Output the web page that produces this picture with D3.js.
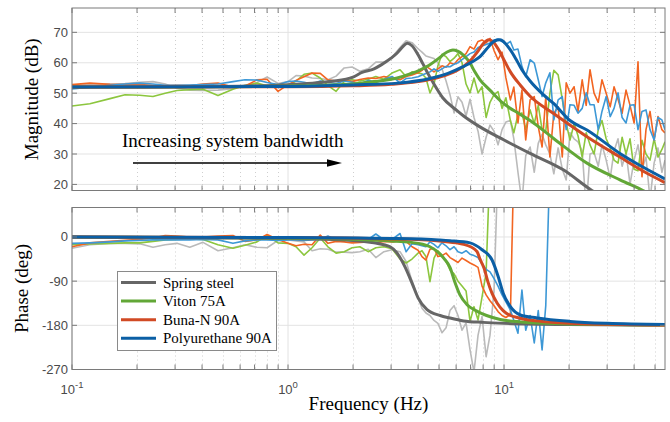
<!DOCTYPE html>
<html>
<head>
<meta charset="utf-8">
<script src="https://cdn.jsdelivr.net/npm/d3@7"></script>
<style>
  html, body { margin: 0; padding: 0; background: #fff; }
  svg { display: block; }
  .serif { font-family: "Liberation Serif", "Times New Roman", Times, serif; }
  .sans { font-family: "Liberation Sans", Arial, Helvetica, sans-serif; }
</style>
</head>
<body>
<svg id="bode" width="670" height="422"></svg>
<script>
(function() {

  // measured response, sample frequencies (Hz)
  const rawFreq = [
    0.1, 0.121, 0.15, 0.176, 0.206, 0.237, 0.27, 0.306, 0.351, 0.404, 0.474, 0.556, 0.632, 0.718, 0.8, 0.899, 1.0,
    1.089, 1.186, 1.292, 1.41, 1.53, 1.67, 1.82, 1.98, 2.15, 2.35, 2.55, 2.78, 3.03, 3.3, 3.52, 3.75, 4.0,
    4.17, 4.35, 4.54, 4.74, 4.94, 5.16, 5.39, 5.62, 5.87, 6.12, 6.39, 6.67, 6.96, 7.26, 7.58, 7.91, 8.26, 8.61, 8.99, 9.38, 9.79,
    10.2, 10.7, 11.1, 11.6, 12.1, 12.6, 13.2, 13.8, 14.4, 15.0, 15.6, 16.3, 17.0, 17.8, 18.6, 19.4, 20.2, 21.1, 22.0, 23.0,
    24.0, 25.0, 26.1, 27.3, 28.4, 29.7, 31.0, 32.3, 33.7, 35.2, 36.7, 38.3, 40.0, 41.7, 43.5, 45.4, 47.4, 49.5, 51.6, 53.8, 55.6
  ];

  // measured magnitude (dB)
  const steelRawMag = [
    52.5, 52.8, 53.0, 53.2, 53.6, 53.8, 53.0, 51.6, 51.0, 50.9, 51.0, 51.5, 52.6, 53.5, 55.3, 53.2, 53.8,
    55.8, 55.6, 55.0, 54.8, 54.4, 55.6, 58.3, 58.6, 57.2, 58.0, 60.2, 60.2, 61.8, 65.0, 67.2, 66.6, 64.6,
    63.5, 62.2, 61.8, 61.4, 60.0, 58.0, 54.0, 49.5, 43.5, 48.8, 47.0, 42.5, 48.0, 42.0, 37.5, 30.0, 35.5, 39.5, 37.5, 33.0, 38.0,
    40.5, 41.0, 35.0, 24.0, 14.0, 29.5, 32.3, 24.0, 33.5, 36.5, 33.0, 30.0, 23.5, 32.0, 25.0, 21.5, 37.0, 35.0, 34.0, 31.0,
    12.0, 30.0, 30.5, 26.0, 33.0, 28.0, 22.0, 31.0, 35.0, 26.0, 30.5, 20.0, 28.0, 33.0, 25.0, 29.0, 15.0, 27.0, 32.0, 24.0, 28.0
  ];
  const vitonRawMag = [
    45.8, 46.5, 48.2, 49.5, 49.3, 48.9, 50.0, 50.9, 51.1, 51.3, 49.2, 51.3, 52.5, 53.3, 52.4, 52.2, 52.5,
    54.0, 56.2, 56.6, 55.0, 52.5, 50.6, 53.8, 54.4, 54.0, 54.6, 55.5, 54.6, 56.6, 57.7, 55.5, 57.0, 56.6,
    56.4, 55.0, 50.1, 53.0, 59.0, 62.8, 62.0, 60.4, 61.5, 63.0, 60.0, 53.0, 50.1, 55.0, 50.1, 52.1, 42.0, 47.0, 49.5, 50.5, 45.0,
    48.5, 41.0, 37.0, 43.0, 43.5, 38.0, 44.5, 40.0, 46.0, 38.0, 37.5, 50.0, 57.5, 56.0, 48.0, 40.0, 34.6, 40.0, 36.0, 29.0,
    37.0, 33.0, 30.0, 38.0, 41.0, 35.0, 32.0, 28.0, 27.0, 35.5, 30.0, 35.0, 25.0, 24.5, 34.5, 30.0, 28.0, 35.0, 29.0, 31.5, 34.0
  ];
  const bunaRawMag = [
    52.8, 53.3, 52.9, 52.8, 52.8, 52.6, 52.5, 52.6, 52.5, 53.0, 53.3, 52.0, 52.3, 54.4, 54.6, 50.6, 52.8,
    54.2, 55.4, 56.6, 56.5, 54.4, 54.0, 54.2, 53.8, 54.5, 55.0, 54.8, 55.5, 55.0, 54.4, 55.5, 56.0, 56.7,
    57.5, 58.8, 58.0, 57.0, 58.0, 59.0, 58.5, 60.0, 59.5, 61.0, 62.0, 63.0, 65.3, 64.5, 67.0, 67.5, 66.5, 68.0, 64.0, 61.0, 63.5,
    55.0, 47.8, 52.0, 40.2, 51.0, 34.6, 47.8, 48.9, 39.0, 32.3, 48.8, 29.0, 43.4, 45.5, 29.0, 53.4, 50.0, 52.1, 44.0, 54.4,
    46.0, 57.7, 50.0, 47.0, 54.4, 50.0, 45.5, 52.1, 48.0, 43.4, 51.0, 46.0, 40.2, 60.3, 22.5, 38.0, 44.0, 34.6, 42.3, 38.0, 36.9
  ];
  const polyRawMag = [
    51.4, 52.0, 52.6, 53.0, 53.3, 53.0, 52.6, 52.6, 52.7, 52.8, 53.0, 53.8, 54.4, 54.3, 53.5, 52.8, 53.8,
    54.0, 53.6, 53.0, 54.0, 53.5, 53.2, 54.0, 53.6, 53.0, 54.2, 53.6, 54.5, 55.5, 53.4, 54.8, 55.0, 55.4,
    56.0, 56.5, 57.0, 58.0, 57.2, 58.0, 58.8, 58.7, 59.5, 60.0, 61.0, 62.0, 63.0, 63.5, 65.0, 65.5, 66.0, 66.5, 67.5, 67.8, 67.0,
    66.0, 67.0, 64.2, 64.5, 58.8, 55.4, 61.0, 59.9, 54.4, 48.9, 53.4, 56.7, 41.2, 47.8, 48.9, 38.0, 46.2, 46.0, 43.4, 45.0,
    50.1, 46.2, 46.2, 38.0, 44.0, 48.9, 42.3, 45.0, 50.1, 42.0, 40.2, 46.0, 46.2, 38.0, 44.0, 44.5, 38.0, 34.6, 42.0, 41.2, 38.0
  ];

  // measured phase (deg); each series stops where it wraps off the top
  const steelRawPh = [
    -23, -16, -13, -13, -14, -21, -16, -13, -21, -11, -28, -22, -16, -21, -22, -7, -6,
    -8, -10, -28, -24, -25, -31, -31, -32, -30, -25, -42, -30, -26, -30, -50, -90, -125,
    -145, -155, -160, -170, -176, -195, -185, -150, -140, -160, -190, -175, -230, -275, -200, -162, -244, -200, -108, 150
  ];
  const vitonRawPh = [
    -16, -14, -13, -12, -12, -9, -6, -5, -4, -5, -16, -23, -17, -10, 3, -12, -13,
    -20, -37, -22, -2, -20, -33, -30, -22, -20, -30, -22, -20, -24, -45, -53, -45, -33,
    -28, -40, -91, -43, -28, -38, -50, -67, -75, -90, -100, -110, -172, -142, -169, -122, -73, 150
  ];
  const bunaRawPh = [
    -20, -12, -9, -7, -5, -2, 3, 2, 0, 0, 2, 3, -9, -6, 5, -5, -13,
    -18, -15, -16, 4, -13, -9, -10, -12, -11, -10, -12, -9, -10, -8, -9, -20, -27,
    -40, -47, -25, -23, -40, -38, -33, -42, -47, -52, -43, -48, -53, -57, -62, -100, -118, -130, -140, -152, -160,
    -164, -158, 150
  ];
  const polyRawPh = [
    -13, -12, -10, -8, -7, -6, -6, -6, -6, -5, -6, -13, -8, -6, -6, -7, -6,
    -6, -7, -6, -5, 2, -6, -6, -8, -6, -5, 6, -6, -5, 7, -30, -14, -16,
    -18, -20, -10, -15, -22, -12, -18, -26, -20, -30, -33, -28, -35, -38, -42, -55, -66, -71, -85, -100, -118,
    -132, -149, -170, -196, -108, -190, -160, -216, -150, -230, -140, 150
  ];

  // fitted models
  const steelFitFreq = [0.1, 0.3, 0.6, 1, 1.3, 1.6, 2, 2.2, 2.5, 2.7, 3, 3.2, 3.4, 3.56, 3.75, 4, 4.2, 4.4, 4.7, 5.2, 6, 6.5, 7.7, 10, 13.2, 18.8, 25.5, 30];
  const steelFitMag = [52.0, 52.1, 52.3, 52.8, 53.3, 53.9, 55.3, 56.8, 58.0, 59.3, 61.5, 63.2, 65.3, 66.4, 65.6, 62.6, 59.8, 57.0, 53.4, 48.5, 44.5, 42.5, 39.0, 34.6, 30.2, 24.8, 18.0, 15.0];
  const steelPhFreq = [0.1, 1, 2, 2.5, 2.97, 3.2, 3.47, 3.75, 4.0, 4.4, 5.06, 5.6, 6.5, 8, 10, 20, 55.6];
  const steelFitPh = [-0.3, -3, -7, -12, -20, -33, -60, -94, -124, -148, -160, -165, -171, -174, -176, -178.5, -179.5];

  const vitonFitFreq = [0.1, 0.5, 1, 1.5, 2, 2.5, 3.2, 3.7, 4.1, 4.5, 5.0, 5.3, 5.6, 5.8, 6.1, 6.46, 6.96, 7.3, 7.74, 8.6, 9.9, 11.9, 13.2, 16.9, 24.2, 34.4, 44, 50];
  const vitonFitMag = [52.0, 52.1, 52.3, 52.6, 53.0, 53.8, 55.0, 56.4, 57.7, 59.2, 61.5, 63.0, 63.9, 64.2, 63.8, 62.6, 59.9, 57.2, 54.4, 51.0, 46.7, 43.0, 41.0, 35.2, 27.0, 21.5, 18.0, 16.0];
  const vitonPhFreq = [0.1, 1, 2, 3, 3.7, 4.2, 4.54, 5.06, 5.3, 5.62, 5.9, 6.25, 6.74, 7.4, 8.3, 9.6, 12, 15, 20, 30, 55.6];
  const vitonFitPh = [-0.3, -2, -4.5, -8, -11, -15, -20, -35, -45, -62, -90, -118, -138, -150, -160, -168, -173, -175.5, -177.5, -178.5, -179.5];

  const bunaFitFreq = [0.1, 1, 2, 3, 4, 5, 6, 6.5, 7, 7.5, 8, 8.5, 9, 9.4, 9.9, 10.7, 11.9, 13.2, 16.9, 24.2, 34.4, 45, 55.6];
  const bunaFitMag = [52.0, 52.1, 52.4, 52.9, 53.8, 55.2, 57.3, 58.8, 60.8, 63.4, 66.2, 67.6, 66.5, 64.5, 61.5, 57.0, 52.6, 49.0, 43.4, 35.7, 29.0, 24.0, 20.6];
  const bunaPhFreq = [0.1, 1, 3, 5, 6, 6.5, 7, 7.5, 7.74, 8.1, 8.4, 8.8, 9.3, 9.9, 10.7, 11.5, 13, 15, 20, 30, 55.6];
  const bunaFitPh = [-0.2, -1.2, -4, -8, -12, -15, -20, -30, -45, -65, -90, -115, -135, -150, -160, -164, -169, -172, -176, -178, -179.5];

  const polyFitFreq = [0.1, 1, 2, 3.23, 4.54, 5.5, 6.46, 7.2, 7.74, 8.3, 8.89, 9.3, 9.58, 10.0, 10.7, 11.5, 12.2, 13.2, 15.2, 16.9, 20.2, 24.2, 34.4, 45, 55.6];
  const polyFitMag = [52.0, 52.2, 52.7, 53.3, 54.8, 56.5, 58.7, 60.5, 62.0, 64.5, 66.8, 67.5, 67.6, 66.8, 64.2, 60.5, 57.3, 54.0, 49.5, 46.7, 41.0, 37.9, 30.2, 25.3, 21.8];
  const polyPhFreq = [0.1, 1, 3, 5, 5.62, 6.96, 7.91, 8.8, 9.4, 9.9, 10.7, 11.9, 14.2, 20.2, 30, 55.6];
  const polyFitPh = [-0.2, -1, -3, -6, -7.5, -12, -26, -47, -81, -114, -142, -159, -165, -172, -176, -178.5];

  const seriesNames = ["Spring steel", "Viton 75A", "Buna-N 90A", "Polyurethane 90A"];
  const rawColors = ["#bababa", "#8cc63e", "#f26522", "#3d98d6"];
  const fitColors = ["#666666", "#62a737", "#d14a24", "#0b5fa5"];

  const magTicks = [20, 30, 40, 50, 60, 70];
  const phTicks = [-270, -180, -90, 0];
  const xMajor = [0.1, 1, 10];
  const xMajorExp = ["-1", "0", "1"];
  const xMinor = [0.2, 0.3, 0.4, 0.5, 0.6, 0.7, 0.8, 0.9, 2, 3, 4, 5, 6, 7, 8, 9, 20, 30, 40, 50];

  const AXIS = "#7a7a7a";
  const TICKTXT = "#4a4a4a";

  const left = 72, right = 665;
  const svg = d3.select("#bode");
  const x = d3.scaleLog().domain([0.1, 55.6]).range([left, right]);
  const yMag = d3.scaleLinear().domain([18, 78]).range([190.5, 8]);
  const yPh = d3.scaleLinear().domain([-270, 60]).range([369.5, 207.5]);

  const zip = (fs, vs) => vs.map((v, i) => [fs[i], v]);

  const magPanel = drawPanel("mag", yMag, magTicks);
  [steelRawMag, vitonRawMag, bunaRawMag, polyRawMag].forEach((vals, i) =>
    drawLine(magPanel, yMag, zip(rawFreq, vals), rawColors[i], 1.6, false));
  [[steelFitFreq, steelFitMag], [vitonFitFreq, vitonFitMag], [bunaFitFreq, bunaFitMag], [polyFitFreq, polyFitMag]]
    .forEach(([fs, vs], i) => drawLine(magPanel, yMag, zip(fs, vs), fitColors[i], 3, true));
  finishPanel("mag", yMag, magTicks, false);

  const phPanel = drawPanel("ph", yPh, phTicks);
  [steelRawPh, vitonRawPh, bunaRawPh, polyRawPh].forEach((vals, i) =>
    drawLine(phPanel, yPh, zip(rawFreq, vals), rawColors[i], 1.6, false));
  [[steelPhFreq, steelFitPh], [vitonPhFreq, vitonFitPh], [bunaPhFreq, bunaFitPh], [polyPhFreq, polyFitPh]]
    .forEach(([fs, vs], i) => drawLine(phPanel, yPh, zip(fs, vs), fitColors[i], 3, true));
  finishPanel("ph", yPh, phTicks, true);

  // axis titles
  svg.append("text").attr("class", "serif")
    .attr("transform", `translate(31,${(yMag.range()[0] + yMag.range()[1]) / 2}) rotate(-90)`)
    .attr("text-anchor", "middle").attr("dominant-baseline", "central")
    .attr("font-size", 19).attr("fill", "#000")
    .text("Magnitude (dB)");
  svg.append("text").attr("class", "serif")
    .attr("transform", `translate(21,${(yPh.range()[0] + yPh.range()[1]) / 2}) rotate(-90)`)
    .attr("text-anchor", "middle").attr("dominant-baseline", "central")
    .attr("font-size", 19).attr("fill", "#000")
    .text("Phase (deg)");
  svg.append("text").attr("class", "serif")
    .attr("x", (left + right) / 2).attr("y", 410)
    .attr("text-anchor", "middle")
    .attr("font-size", 19).attr("fill", "#000")
    .text("Frequency (Hz)");

  // annotation
  svg.append("text").attr("class", "serif")
    .attr("x", 122).attr("y", 147)
    .attr("font-size", 19).attr("fill", "#000")
    .text("Increasing system bandwidth");
  svg.append("line")
    .attr("x1", 133).attr("y1", 163).attr("x2", 330).attr("y2", 163)
    .attr("stroke", "#000").attr("stroke-width", 1.3);
  svg.append("path")
    .attr("d", "M342,163 L327,159.3 L327,166.7 Z")
    .attr("fill", "#000");

  drawLegend();


  function drawPanel(id, y, ticks) {
    const [bottom, top] = y.range();
    const g = svg.append("g").attr("class", `panel-${id}`);

    svg.append("clipPath").attr("id", `clip-${id}`)
      .append("rect")
      .attr("x", left).attr("y", top)
      .attr("width", right - left).attr("height", bottom - top);

    g.selectAll(".hgrid").data(ticks).join("line")
      .attr("x1", left).attr("x2", right)
      .attr("y1", d => y(d)).attr("y2", d => y(d))
      .attr("stroke", "#e3e3e3").attr("stroke-width", 1);

    g.selectAll(".vminor").data(xMinor).join("line")
      .attr("x1", d => Math.round(x(d)) + 0.5).attr("x2", d => Math.round(x(d)) + 0.5)
      .attr("y1", top).attr("y2", bottom)
      .attr("stroke", "#cfcfcf").attr("stroke-width", 1)
      .attr("stroke-dasharray", "1,3");

    g.selectAll(".vmajor").data(xMajor).join("line")
      .attr("x1", d => x(d)).attr("x2", d => x(d))
      .attr("y1", top).attr("y2", bottom)
      .attr("stroke", "#e3e3e3").attr("stroke-width", 1);

    return g.append("g").attr("clip-path", `url(#clip-${id})`);
  }


  function drawLine(g, y, pts, color, width, smooth) {
    const line = d3.line()
      .x(d => x(d[0]))
      .y(d => y(d[1]))
      .curve(smooth ? d3.curveMonotoneX : d3.curveLinear);
    g.append("path")
      .datum(pts)
      .attr("d", line)
      .attr("fill", "none")
      .attr("stroke", color)
      .attr("stroke-width", width)
      .attr("stroke-linejoin", "round");
  }


  function finishPanel(id, y, ticks, xLabels) {
    const [bottom, top] = y.range();
    const g = svg.append("g").attr("class", `axes-${id}`);
    const tick = 5;

    // inward ticks on all four sides
    ticks.forEach(t => {
      g.append("line").attr("x1", left).attr("x2", left + tick)
        .attr("y1", y(t)).attr("y2", y(t)).attr("stroke", AXIS);
      g.append("line").attr("x1", right - tick).attr("x2", right)
        .attr("y1", y(t)).attr("y2", y(t)).attr("stroke", AXIS);
    });
    xMajor.concat(xMinor).forEach(f => {
      const px = x(f);
      g.append("line").attr("x1", px).attr("x2", px)
        .attr("y1", bottom).attr("y2", bottom - tick).attr("stroke", AXIS);
      g.append("line").attr("x1", px).attr("x2", px)
        .attr("y1", top).attr("y2", top + tick).attr("stroke", AXIS);
    });

    g.append("rect")
      .attr("x", left).attr("y", top)
      .attr("width", right - left).attr("height", bottom - top)
      .attr("fill", "none").attr("stroke", AXIS).attr("stroke-width", 1);

    g.selectAll(".ylab").data(ticks).join("text")
      .attr("class", "sans")
      .attr("x", left - 4).attr("y", d => y(d))
      .attr("text-anchor", "end").attr("dominant-baseline", "central")
      .attr("font-size", 13).attr("fill", TICKTXT)
      .text(d => d);

    if (xLabels) {
      xMajor.forEach((f, i) => {
        const t = g.append("text").attr("class", "sans")
          .attr("x", x(f)).attr("y", bottom + 24)
          .attr("text-anchor", "middle")
          .attr("font-size", 13).attr("fill", TICKTXT);
        t.append("tspan").text("10");
        t.append("tspan").attr("dy", -6).attr("font-size", 9.5).text(xMajorExp[i]);
      });
    }
  }


  function drawLegend() {
    const box = { x: 117, y: 271, w: 159, h: 79 };
    const g = svg.append("g").attr("class", "legend");
    g.append("rect")
      .attr("x", box.x + 0.5).attr("y", box.y + 0.5)
      .attr("width", box.w).attr("height", box.h)
      .attr("fill", "#fff").attr("stroke", "#8a8a8a").attr("stroke-width", 1);

    seriesNames.forEach((name, i) => {
      const cy = box.y + 11.5 + i * 18.6;
      g.append("line")
        .attr("x1", box.x + 4).attr("x2", box.x + 39)
        .attr("y1", cy).attr("y2", cy)
        .attr("stroke", fitColors[i]).attr("stroke-width", 3);
      g.append("text").attr("class", "serif")
        .attr("x", box.x + 46).attr("y", cy)
        .attr("dominant-baseline", "central")
        .attr("font-size", 15).attr("fill", "#000")
        .text(name);
    });
  }

})();
</script>
</body>
</html>
